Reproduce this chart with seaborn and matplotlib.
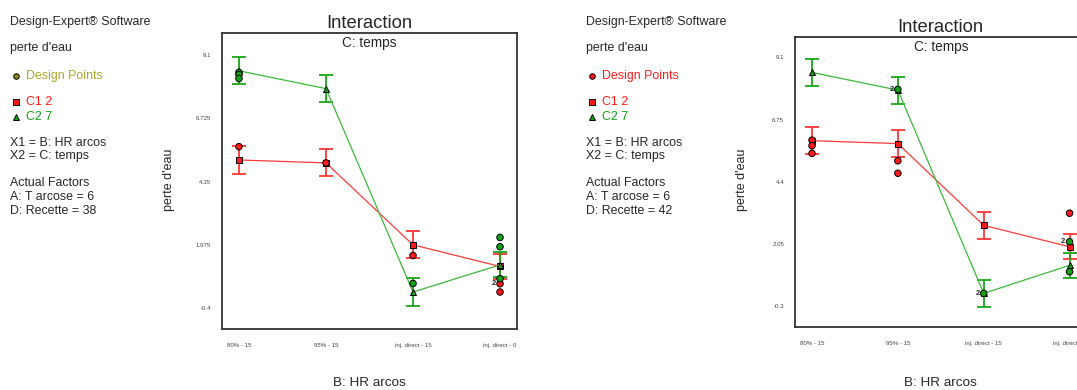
import matplotlib
matplotlib.use("Agg")
import matplotlib.pyplot as plt
from matplotlib.lines import Line2D
import seaborn as sns
import pandas as pd

# ---- data -------------------------------------------------------------
hr_levels = ["80% - 15", "95% - 15", "inj. direct - 15", "inj. direct - 0"]
temps_levels = ["C1 2", "C2 7"]

# Recette = 38
c1_mean_38 = [5.16, 5.05, 1.97, 1.16]
c2_mean_38 = [8.51, 7.84, 0.20, 1.22]
lsd_38 = [0.51, 0.51, 0.51, 0.47]
c1_pts_hr_38 = ["80% - 15", "95% - 15", "inj. direct - 15", "inj. direct - 0", "inj. direct - 0"]
c1_pts_38 = [5.66, 5.05, 1.57, 0.51, 0.20]
c2_pts_hr_38 = ["80% - 15", "80% - 15", "80% - 15", "inj. direct - 15",
                "inj. direct - 0", "inj. direct - 0", "inj. direct - 0"]
c2_pts_38 = [8.45, 8.37, 8.22, 0.52, 2.25, 1.90, 0.70]
dup_hr_38 = ["inj. direct - 0"]
dup_val_38 = [0.51]
yticks_38 = [-0.4, 1.975, 4.35, 6.725, 9.1]
ytick_labels_38 = ["-0.4", "1.975", "4.35", "6.725", "9.1"]

# Recette = 42
c1_mean_42 = [5.95, 5.84, 2.75, 1.94]
c2_mean_42 = [8.53, 7.86, 0.18, 1.24]
lsd_42 = [0.51, 0.51, 0.51, 0.48]
c1_pts_hr_42 = ["80% - 15", "80% - 15", "80% - 15", "95% - 15", "95% - 15", "inj. direct - 0"]
c1_pts_42 = [5.97, 5.76, 5.47, 5.19, 4.72, 3.21]
c2_pts_hr_42 = ["95% - 15", "inj. direct - 15", "inj. direct - 0", "inj. direct - 0"]
c2_pts_42 = [7.89, 0.18, 2.13, 1.00]
dup_hr_42 = ["95% - 15", "inj. direct - 15", "inj. direct - 0"]
dup_val_42 = [7.89, 0.18, 2.13]
yticks_42 = [-0.3, 2.05, 4.4, 6.75, 9.1]
ytick_labels_42 = ["-0.3", "2.05", "4.4", "6.75", "9.1"]

# ---- style ------------------------------------------------------------
sns.set_theme(style="white")
plt.rcParams["font.family"] = ["Liberation Sans", "DejaVu Sans"]

RED = "#ff1a1a"
GREEN = "#14a014"
RED_BAR = "#ff3535"
GREEN_BAR = "#18a818"
RED_LINE = "#ff3b3b"
GREEN_LINE = "#3cb83c"
W, H = 1077, 390

fig = plt.figure(figsize=(W / 100, H / 100), dpi=100)


def fx(x):
    return x / W


def fy(y):
    return 1 - y / H


def key_marker(x, y, marker, size, face):
    fig.add_artist(Line2D([fx(x)], [fy(y)], transform=fig.transFigure,
                          marker=marker, markersize=size, markerfacecolor=face,
                          markeredgecolor="black", markeredgewidth=0.7, linestyle=""))


def draw_panel(rect, ylim, yticks, yticklabels, c1_mean, c2_mean, lsd,
               c1_hr, c1_pts, c2_hr, c2_pts, dup_hr, dup_val,
               tx, recette, dp_color, dp_text_color):
    left, top, right, bottom = rect
    ax = fig.add_axes([fx(left), fy(bottom), fx(right - left), fy(top) - fy(bottom)])

    # LSD bars
    for means, col in ((c1_mean, RED_BAR), (c2_mean, GREEN_BAR)):
        ax.errorbar(hr_levels, means, yerr=lsd, fmt="none", ecolor=col,
                    elinewidth=1.3, capsize=5, capthick=1.3, zorder=2)

    means_df = pd.DataFrame({
        "HR": hr_levels * 2,
        "perte": c1_mean + c2_mean,
        "temps": [temps_levels[0]] * 4 + [temps_levels[1]] * 4,
    })
    sns.lineplot(data=means_df, x="HR", y="perte", hue="temps", style="temps",
                 palette={"C1 2": RED, "C2 7": GREEN},
                 markers={"C1 2": "s", "C2 7": "^"}, dashes=False, sort=False,
                 linewidth=0.9, markersize=5, markeredgecolor="black",
                 markeredgewidth=0.7, legend=False, ax=ax, zorder=3)
    for line, col in zip(ax.lines[-2:], (RED_LINE, GREEN_LINE)):
        line.set_color(col)
    for line, col in zip(ax.lines[-2:], (RED, GREEN)):
        line.set_markerfacecolor(col)
        line.set_markeredgecolor("black")

    pts_df = pd.DataFrame({
        "HR": c1_hr + c2_hr,
        "perte": c1_pts + c2_pts,
        "temps": [temps_levels[0]] * len(c1_pts) + [temps_levels[1]] * len(c2_pts),
    })
    sns.scatterplot(data=pts_df, x="HR", y="perte", hue="temps",
                    palette={"C1 2": RED, "C2 7": GREEN}, s=22,
                    edgecolor="black", linewidth=0.7, legend=False, ax=ax, zorder=4)

    for h, v in zip(dup_hr, dup_val):
        ax.annotate("2", (h, v), xytext=(-4.5, 0), textcoords="offset points",
                    ha="center", va="center", fontsize=5.5, fontweight="bold",
                    color="#222222", zorder=5)

    ax.set_xlim(-0.195, 3.195)
    ax.set_ylim(*ylim)
    ax.set_yticks(yticks)
    ax.set_yticklabels(yticklabels)
    ax.tick_params(axis="both", direction="out", length=6, width=1,
                   labelsize=4.4, colors="#333333", labelcolor="#444444", pad=2)
    ax.tick_params(axis="x", pad=4)
    ax.set_xlabel("")
    ax.set_ylabel("")
    for sp in ax.spines.values():
        sp.set_color("#333333")
        sp.set_linewidth(1.3)

    cx = left + (right - left) / 2
    fig.text(fx(cx), fy(top - 9), "Interaction", ha="center", va="center", fontsize=13.3)
    fig.text(fx(cx), fy(top + 10), "C: temps", ha="center", va="center", fontsize=9.8)
    fig.text(fx(cx), fy(383), "B: HR arcos", ha="center", va="center", fontsize=9.7)
    fig.text(fx(left - 53), fy(180), "perte d'eau", ha="center", va="center",
             rotation=90, fontsize=9)

    # side information block
    fs = 8.9
    fig.text(fx(tx), fy(22), "Design-Expert\u00ae Software", va="center", fontsize=fs)
    fig.text(fx(tx), fy(48.5), "perte d'eau", va="center", fontsize=fs)
    key_marker(tx + 5, 75.5, "o", 4.0, dp_color)
    fig.text(fx(tx + 16), fy(75.5), "Design Points", va="center", fontsize=fs,
             color=dp_text_color)
    key_marker(tx + 5, 102, "s", 4.0, RED)
    fig.text(fx(tx + 16), fy(102), "C1 2", va="center", fontsize=fs, color=RED)
    key_marker(tx + 5, 116.5, "^", 4.4, GREEN)
    fig.text(fx(tx + 16), fy(116.5), "C2 7", va="center", fontsize=fs, color=GREEN)
    fig.text(fx(tx), fy(143.5), "X1 = B: HR arcos", va="center", fontsize=fs)
    fig.text(fx(tx), fy(156.5), "X2 = C: temps", va="center", fontsize=fs)
    fig.text(fx(tx), fy(183.5), "Actual Factors", va="center", fontsize=fs)
    fig.text(fx(tx), fy(197.5), "A: T arcose = 6", va="center", fontsize=fs)
    fig.text(fx(tx), fy(211), "D: Recette = %d" % recette, va="center", fontsize=fs)
    return ax


draw_panel((222, 33, 517, 329), (-1.19, 9.93), yticks_38, ytick_labels_38,
           c1_mean_38, c2_mean_38, lsd_38,
           c1_pts_hr_38, c1_pts_38, c2_pts_hr_38, c2_pts_38, dup_hr_38, dup_val_38,
           10.5, 38, "#8c8c10", "#a8a828")

draw_panel((795.3, 36.7, 1086.3, 326.7), (-1.08, 9.88), yticks_42, ytick_labels_42,
           c1_mean_42, c2_mean_42, lsd_42,
           c1_pts_hr_42, c1_pts_42, c2_pts_hr_42, c2_pts_42, dup_hr_42, dup_val_42,
           586.5, 42, RED, RED)

fig.savefig("out.png", dpi=100)
